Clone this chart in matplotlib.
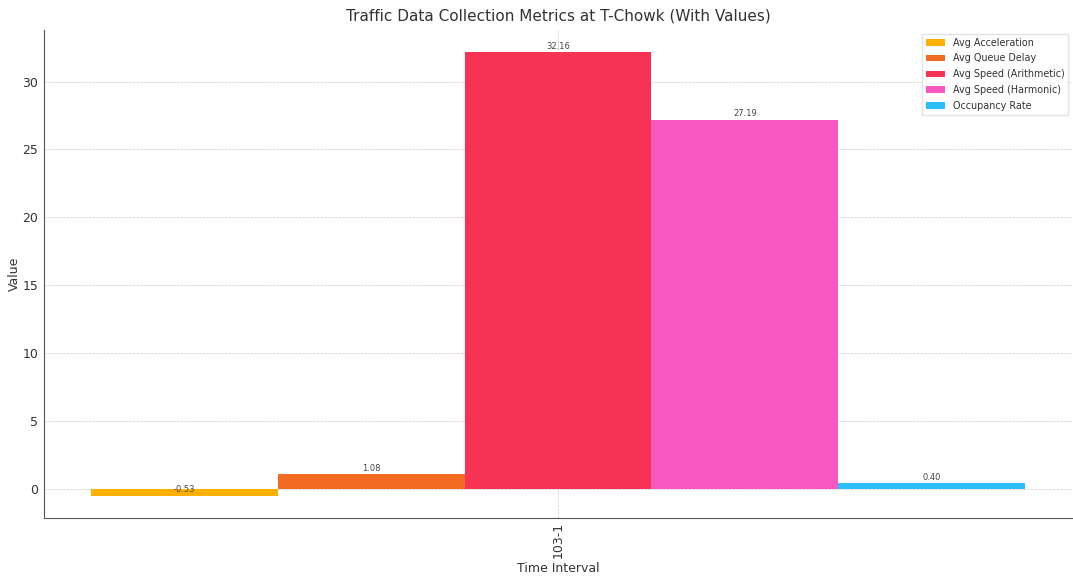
import matplotlib
matplotlib.use("Agg")
import matplotlib.pyplot as plt
import numpy as np

intervals = ["103-1"]
metrics = ["Avg Acceleration", "Avg Queue Delay", "Avg Speed (Arithmetic)",
           "Avg Speed (Harmonic)", "Occupancy Rate"]
values = [-0.53, 1.08, 32.16, 27.19, 0.40]
colors = ["#FFB000", "#F26B21", "#F63355", "#F857C1", "#2BBEFB"]

plt.rcParams["text.color"] = "#333333"
plt.rcParams["axes.labelcolor"] = "#333333"
plt.rcParams["xtick.color"] = "#333333"
plt.rcParams["ytick.color"] = "#333333"

fig, ax = plt.subplots(figsize=(10.73, 5.78), dpi=100)
fig.subplots_adjust(left=0.041, right=0.999, top=0.948, bottom=0.104)

x = np.arange(len(intervals))
width = 0.15
for i, (name, val, col) in enumerate(zip(metrics, values, colors)):
    pos = x + (i - 2) * width
    bars = ax.bar(pos, [val], width, label=name, color=col, zorder=3)
    for b in bars:
        h = b.get_height()
        ax.text(b.get_x() + b.get_width() / 2, h + 0.1, f"{h:.2f}",
                ha="center", va="bottom", fontsize=6, color="#444444", zorder=4)

ax.set_xticks(x)
ax.set_xticklabels(intervals, rotation=90)
ax.set_xlabel("Time Interval", fontsize=9, labelpad=3)
ax.set_ylabel("Value", fontsize=9, labelpad=1)
ax.set_title("Traffic Data Collection Metrics at T-Chowk (With Values)", fontsize=11, pad=7)
ax.tick_params(axis="both", labelsize=9, length=0)
ax.tick_params(axis="x", pad=3)
ax.tick_params(axis="y", pad=4)
ax.grid(True, linestyle="--", linewidth=0.5, color="#cccccc", zorder=0)
for s in ["top", "right"]:
    ax.spines[s].set_visible(False)
for s in ["left", "bottom"]:
    ax.spines[s].set_color("#555555")
ax.legend(loc="upper right", fontsize=6.9, frameon=True, edgecolor="#dddddd",
          fancybox=False, handlelength=2, labelspacing=0.6,
          borderaxespad=0.4)

fig.savefig("out.png", dpi=100)
